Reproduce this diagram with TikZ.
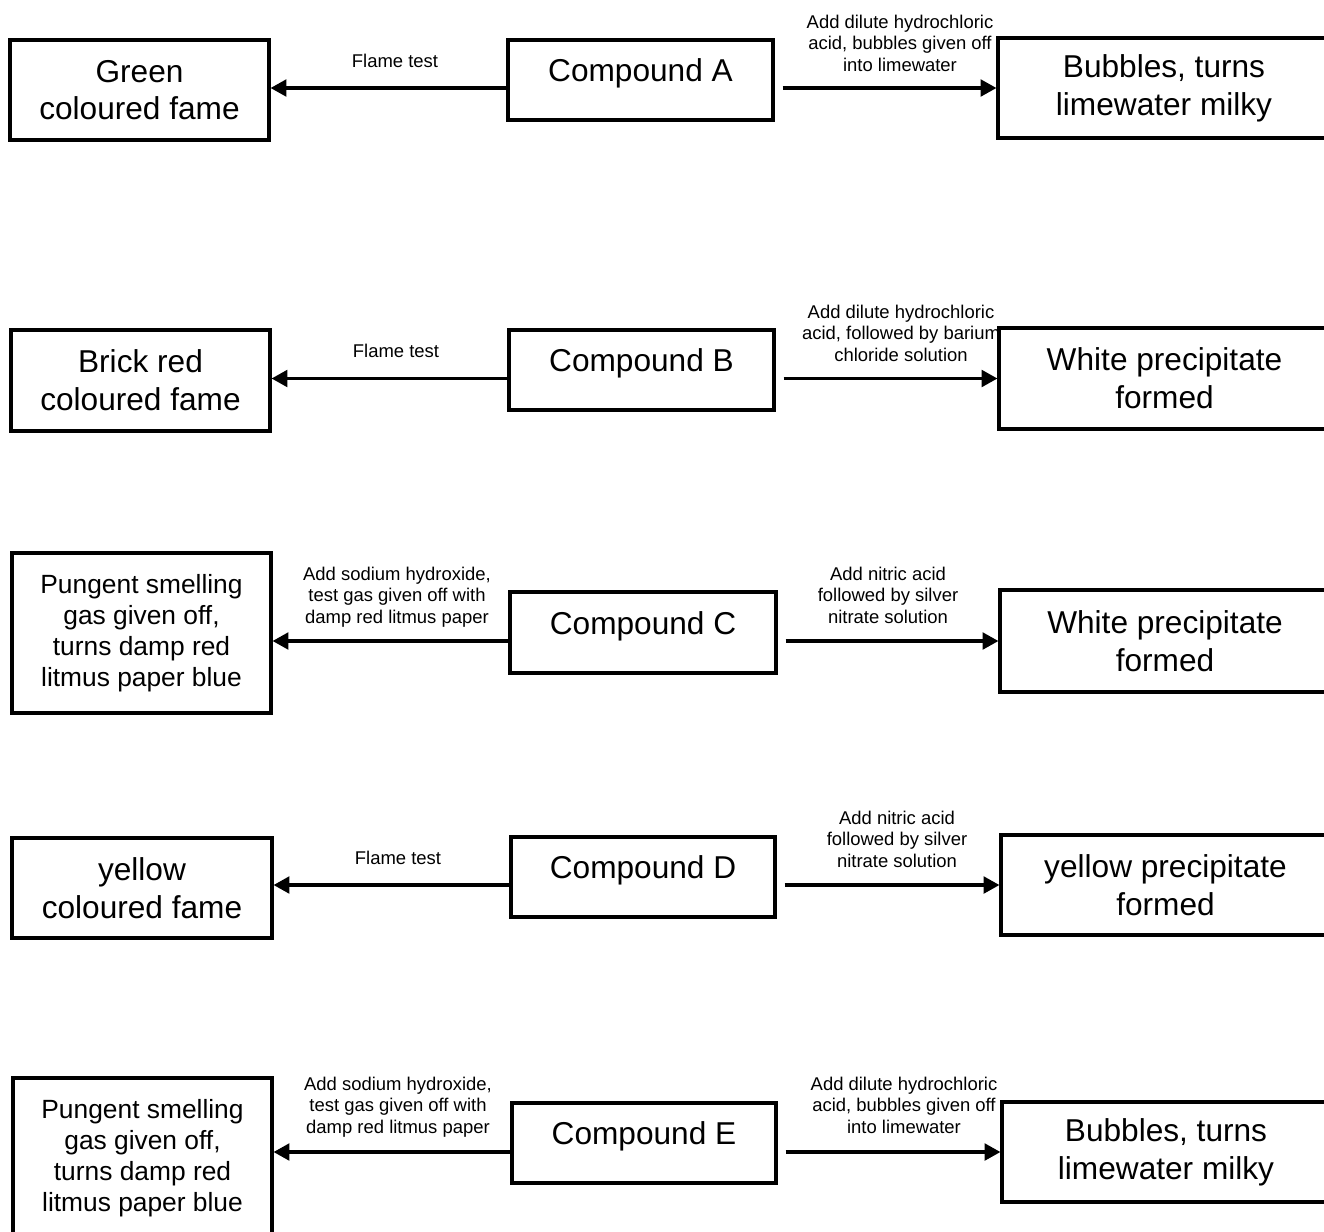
\documentclass[tikz,border=0pt]{standalone}
\usepackage{fontspec}
\setmainfont{Liberation Sans}
\usetikzlibrary{arrows.meta}
\def\px{0.02cm}
\def\gap{0.16cm}
\tikzset{
    box/.style={draw, line width=1.8pt, align=center, inner sep=0pt,
        font=\fontsize{18}{21.5}\selectfont},
    smallbox/.style={box, font=\fontsize{15}{17.6}\selectfont},
    compbox/.style={box, text height=13pt, text depth=11pt},
    note/.style={align=center, inner sep=0pt, font=\fontsize{10.5}{12.2}\selectfont},
    arr/.style={-{Triangle[length=9pt,width=9.5pt]}, line width=1.8pt}
}
\newcommand{\panel}[7][box]{
    \node[#1, minimum width={(#5-#3)*\px}, minimum height={(#6-#4)*\px}]
    (#2) at ({(#3+#5)/2}, {(#4+#6)/2}) {#7};
}
\newcommand{\tests}[1]{
    \draw[arr] (C#1.west |- R#1.west) -- (L#1.east |- R#1.west);
    \draw[arr] ([xshift=\gap]C#1.east |- R#1.west) -- (R#1.west);
}

\begin{document}
\begin{tikzpicture}[x=\px, y=-\px]
    \useasboundingbox (0,0) rectangle (1324,1231);
    % compound A
    \panel{LA}{10}{40}{269}{140}{Green\\coloured fame}
    \panel[compbox]{CA}{508}{40}{773}{120}{Compound A}
    \panel{RA}{998}{38}{1330}{138}{Bubbles, turns\\limewater milky}
    \tests{A}
    \node[note] (nLA) at (395,61) {Flame test};
    \node[note] (nRA) at (900,43) {Add dilute hydrochloric\\acid, bubbles given off\\into limewater};
    % compound B
    \panel{LB}{11}{330}{270}{431}{Brick red\\coloured fame}
    \panel[compbox]{CB}{509}{330}{774}{410}{Compound B}
    \panel{RB}{999}{328}{1330}{429}{White precipitate\\formed}
    \tests{B}
    \node[note] (nLB) at (396,351) {Flame test};
    \node[note] (nRB) at (901,333) {Add dilute hydrochloric\\acid, followed by barium\\chloride solution};
    % compound C
    \panel[smallbox]{LC}{12}{553}{271}{713}{Pungent smelling\\gas given off,\\turns damp red\\litmus paper blue}
    \panel[compbox]{CC}{510}{592}{776}{673}{Compound C}
    \panel{RC}{1000}{590}{1330}{692}{White precipitate\\formed}
    \tests{C}
    \node[note] (nLC) at (397,597) {Add sodium hydroxide,\\test gas given off with\\damp red litmus paper};
    \node[note] (nRC) at (888,595) {Add nitric acid\\followed by silver\\nitrate solution};
    % compound D
    \panel{LD}{12}{838}{272}{938}{yellow\\coloured fame}
    \panel[compbox]{CD}{511}{837}{775}{917}{Compound D}
    \panel{RD}{1001}{835}{1330}{935}{yellow precipitate\\formed}
    \tests{D}
    \node[note] (nLD) at (398,858) {Flame test};
    \node[note] (nRD) at (897,839) {Add nitric acid\\followed by silver\\nitrate solution};
    % compound E
    \panel[smallbox]{LE}{13}{1078}{272}{1238}{Pungent smelling\\gas given off,\\turns damp red\\litmus paper blue}
    \panel[compbox]{CE}{512}{1103}{776}{1183}{Compound E}
    \panel{RE}{1002}{1102}{1330}{1202}{Bubbles, turns\\limewater milky}
    \tests{E}
    \node[note] (nLE) at (398,1107) {Add sodium hydroxide,\\test gas given off with\\damp red litmus paper};
    \node[note] (nRE) at (904,1105) {Add dilute hydrochloric\\acid, bubbles given off\\into limewater};
\end{tikzpicture}
\end{document}
